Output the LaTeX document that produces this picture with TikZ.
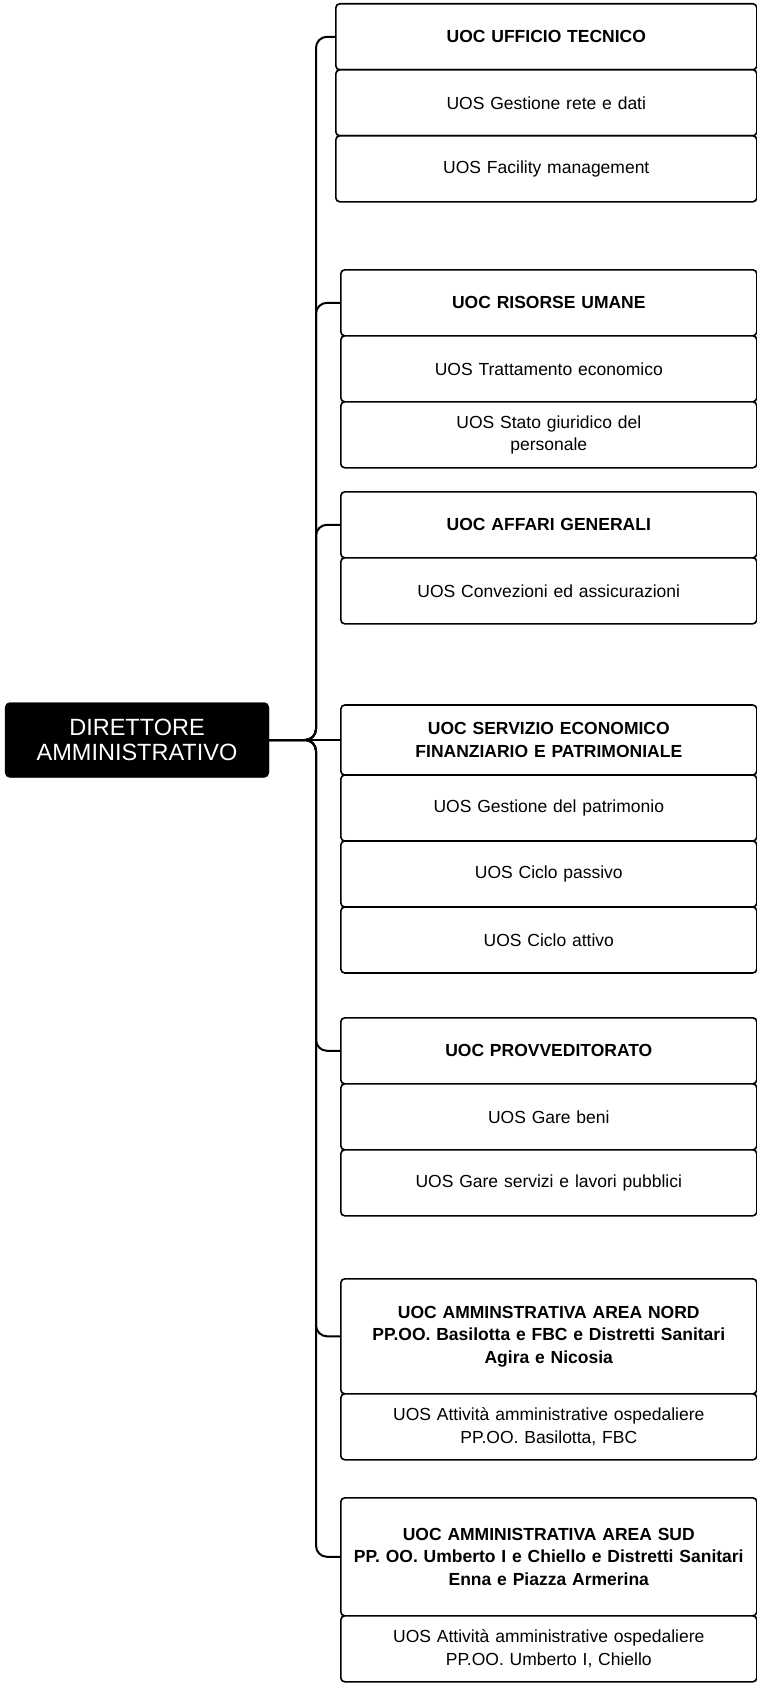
\documentclass[tikz,border=0pt]{standalone}
\usepackage{fontspec}
\setmainfont{Liberation Sans}
\usetikzlibrary{positioning}

\tikzset{
  ubox/.style={draw, line width=1.6pt, rounded corners=4pt, fill=white,
    inner xsep=0pt, inner ysep=2pt, text width=416pt, align=center,
    minimum height=66pt, font=\fontsize{17.5}{22.5}\selectfont},
  uoc/.style={ubox, font=\fontsize{17.5}{22.5}\selectfont\bfseries},
  uos/.style={ubox},
  boss/.style={fill=black, draw=black, text=white, rounded corners=5pt,
    minimum width=264pt, minimum height=75pt, align=center,
    font=\fontsize{23.5}{25}\selectfont},
  link/.style={line width=2pt, rounded corners=11pt},
}

\begin{document}
\begin{tikzpicture}[x=1pt, y=-1pt]
    \useasboundingbox (0,0) rectangle (757,1683);
    \node[boss] (dir) at (137,740) {DIRETTORE\\AMMINISTRATIVO};
    \coordinate (bra) at (316,740);

    % ufficio tecnico
    \node[uoc, text width=421pt, anchor=north west] (tec) at (335,3) {UOC UFFICIO TECNICO};
    \node[uos, text width=421pt, below=-1.6pt of tec] (tec1) {UOS Gestione rete e dati};
    \node[uos, text width=421pt, below=-1.6pt of tec1] (tec2) {UOS Facility management};

    % risorse umane
    \node[uoc, anchor=north west] (ris) at (340,269) {UOC RISORSE UMANE};
    \node[uos, below=-1.6pt of ris] (ris1) {UOS Trattamento economico};
    \node[uos, below=-1.6pt of ris1] (ris2) {UOS Stato giuridico del\\personale};

    % affari generali
    \node[uoc, anchor=north west] (aff) at (340,491) {UOC AFFARI GENERALI};
    \node[uos, below=-1.6pt of aff] (aff1) {UOS Convezioni ed assicurazioni};

    % economico finanziario
    \node[uoc, anchor=west, minimum height=70pt] (eco) at (340,740) {UOC SERVIZIO ECONOMICO\\FINANZIARIO E PATRIMONIALE};
    \node[uos, below=-1.6pt of eco] (eco1) {UOS Gestione del patrimonio};
    \node[uos, below=-1.6pt of eco1] (eco2) {UOS Ciclo passivo};
    \node[uos, below=-1.6pt of eco2] (eco3) {UOS Ciclo attivo};

    % provveditorato
    \node[uoc, anchor=north west] (pro) at (340,1017) {UOC PROVVEDITORATO};
    \node[uos, below=-1.6pt of pro] (pro1) {UOS Gare beni};
    \node[uos, below=-1.6pt of pro1] (pro2) {UOS Gare servizi e lavori pubblici};

    % area nord
    \node[uoc, anchor=north west, minimum height=115pt] (nord) at (340,1278) {UOC AMMINSTRATIVA AREA NORD\\PP.OO. Basilotta e FBC e Distretti Sanitari\\Agira e Nicosia};
    \node[uos, below=-1.6pt of nord] (nord1) {UOS Attività amministrative ospedaliere\\PP.OO. Basilotta, FBC};

    % area sud
    \node[uoc, anchor=north west, minimum height=118pt] (sud) at (340,1497) {UOC AMMINISTRATIVA AREA SUD\\PP. OO. Umberto I e Chiello e Distretti Sanitari\\Enna e Piazza Armerina};
    \node[uos, below=-1.6pt of sud] (sud1) {UOS Attività amministrative ospedaliere\\PP.OO. Umberto I, Chiello};

    \foreach \u in {tec,ris,aff,pro,nord,sud} {
    \draw[link] (dir.east) -- (bra) |- (\u.west);
    }
    \draw[link] (dir.east) -- (eco.west);
\end{tikzpicture}
\end{document}
